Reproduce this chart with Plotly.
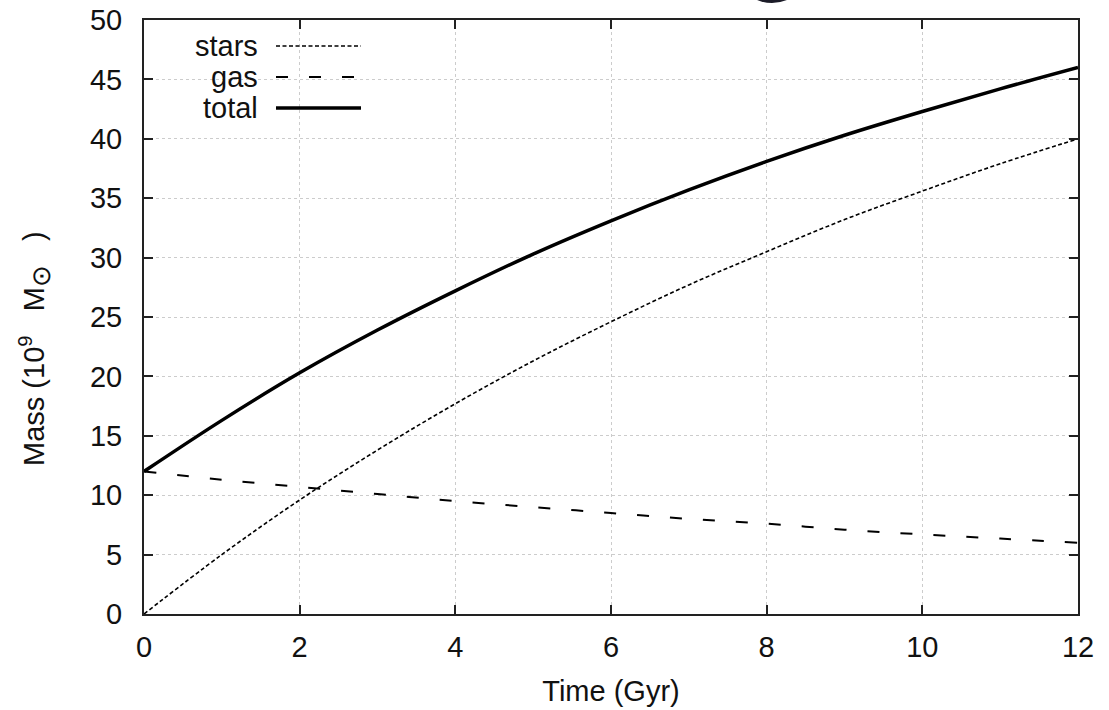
import plotly.graph_objects as go

time_gyr = [0, 1, 2, 3, 4, 5, 6, 7, 8, 9, 10, 11, 12]
stars = [0.0, 5.0, 9.6, 13.8, 17.7, 21.3, 24.6, 27.7, 30.5, 33.2, 35.6, 37.9, 40.0]
gas = [12.0, 11.3, 10.7, 10.1, 9.5, 9.0, 8.5, 8.0, 7.6, 7.1, 6.7, 6.35, 6.0]
total = [12.0, 16.3, 20.3, 23.9, 27.2, 30.3, 33.1, 35.7, 38.1, 40.3, 42.3, 44.2, 46.0]
x_ticks = [0, 2, 4, 6, 8, 10, 12]
y_ticks = [0, 5, 10, 15, 20, 25, 30, 35, 40, 45, 50]

series = [
    ("stars", stars, dict(color="black", width=1.6, dash="4px,2.5px")),
    ("gas", gas, dict(color="black", width=2, dash="12px,21px")),
    ("total", total, dict(color="black", width=3.5)),
]

fig = go.Figure()
for name, vals, line in series:
    fig.add_trace(go.Scatter(x=time_gyr, y=vals, mode="lines", name=name,
                             line=dict(shape="spline", **line), showlegend=False))

font = "Liberation Sans, Arial, Helvetica, sans-serif"
axis_common = dict(
    showline=True, linecolor="#222", linewidth=2, mirror="ticks",
    ticks="inside", ticklen=9, tickwidth=1.5, tickcolor="#222",
    showgrid=True, gridcolor="#cccccc", griddash="dot", gridwidth=1,
    zeroline=False, automargin=False,
    tickfont=dict(family=font, size=29, color="#111"),
)

plot_top, plot_h, plot_left, plot_w = 20, 594, 144, 934

fig.update_layout(
    width=1109, height=710,
    margin=dict(l=plot_left, r=31, t=plot_top, b=96, autoexpand=False),
    paper_bgcolor="white", plot_bgcolor="white",
    font=dict(family=font, color="#111"),
    xaxis=dict(range=[0, 12], tickvals=x_ticks, ticklabelstandoff=6,
               title=dict(text="Time (Gyr)", font=dict(family=font, size=29), standoff=19),
               **axis_common),
    yaxis=dict(range=[0, 50], tickvals=y_ticks, ticklabelstandoff=14,
               **axis_common),
)

# y-axis title as annotation (centred where the reference places it)
fig.add_annotation(xref="paper", yref="paper", x=(35 - plot_left) / plot_w,
                   y=1 - (349 - plot_top) / plot_h, textangle=-90, showarrow=False,
                   xanchor="center", yanchor="middle",
                   text="Mass\u00a0(10<sup>9</sup>\u00a0\u00a0\u00a0M<sub><span style='font-size:26px'>⊙</span></sub>\u00a0\u00a0\u00a0)",
                   font=dict(family=font, size=29, color="#111"))

# Manual legend (text right-aligned, sample to the right), in paper coordinates
legend_rows = [("stars", series[0][2], 46), ("gas", series[1][2], 77), ("total", series[2][2], 108)]
for label, line, ypx in legend_rows:
    yp = 1 - (ypx - plot_top) / plot_h
    fig.add_annotation(xref="paper", yref="paper", x=(260 - plot_left) / plot_w, y=yp,
                       text=label, showarrow=False, xanchor="right", yanchor="middle",
                       font=dict(family=font, size=29, color="#111"))
    fig.add_shape(type="line", xref="paper", yref="paper",
                  x0=(276 - plot_left) / plot_w, x1=(361 - plot_left) / plot_w, y0=yp, y1=yp,
                  line=line)

# small dark emblem edge clipped at the top of the page (as in the reference)
fig.add_shape(type="circle", xref="paper", yref="paper",
              x0=(733 - plot_left) / plot_w, x1=(811 - plot_left) / plot_w,
              y0=1 - (3 - plot_top) / plot_h, y1=1 - (-75 - plot_top) / plot_h,
              fillcolor="#1c1c28", line=dict(width=0), layer="above")

fig.write_html("out.html")
